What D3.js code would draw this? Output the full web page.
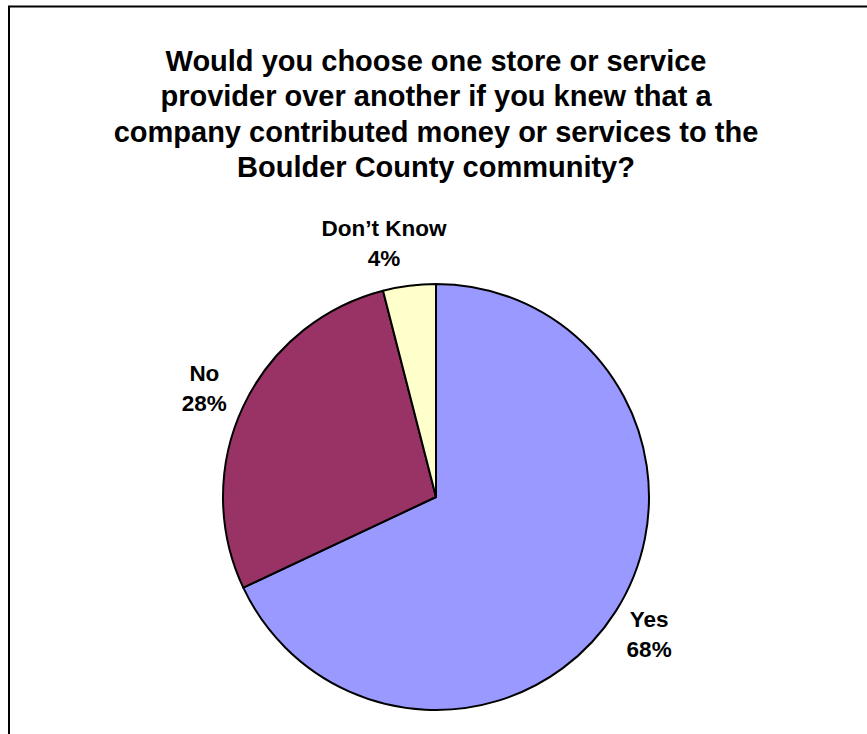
<!DOCTYPE html>
<html>
<head>
<meta charset="utf-8">
<script src="https://cdn.jsdelivr.net/npm/d3@7"></script>
<style>
  html, body { margin: 0; padding: 0; background: #ffffff; }
  svg { display: block; }
  text { font-family: "Liberation Sans", Arial, sans-serif; font-weight: bold; fill: #000; }
</style>
</head>
<body>
<div id="chart"></div>
<script>
// Survey answers and their shares (percent)
const categories = ["Yes", "No", "Don\u2019t Know"];
const shares = [68, 28, 4];
const sliceColors = ["#9999FF", "#993366", "#FFFFCC"];
const titleLines = [
  "Would you choose one store or service",
  "provider over another if you knew that a",
  "company contributed money or services to the",
  "Boulder County community?"
];

const W = 867, H = 734;
const cx = 436, cy = 497, radius = 213;

const svg = d3.select("#chart").append("svg")
  .attr("width", W).attr("height", H);

// chart area frame (runs past the right and bottom edges)
svg.append("rect")
  .attr("x", 9).attr("y", 6.5)
  .attr("width", W + 20).attr("height", H + 20)
  .attr("fill", "#fff")
  .attr("stroke", "#000")
  .attr("stroke-width", 2);

// title
const title = svg.append("text")
  .attr("text-anchor", "middle")
  .style("font-size", "29px");
titleLines.forEach((line, i) => {
  title.append("tspan")
    .attr("x", cx)
    .attr("y", 70.5 + i * 35.5)
    .text(line);
});

const data = categories.map((c, i) => ({ name: c, value: shares[i], color: sliceColors[i] }));

const pie = d3.pie()
  .sort(null)
  .value(d => d.value)
  .startAngle(0)
  .endAngle(2 * Math.PI);

const arcs = pie(data);
const arc = d3.arc().innerRadius(0).outerRadius(radius);

const g = svg.append("g").attr("transform", `translate(${cx},${cy})`);

g.selectAll("path.slice")
  .data(arcs)
  .join("path")
  .attr("class", "slice")
  .attr("d", arc)
  .attr("fill", d => d.data.color)
  .attr("stroke", "#000")
  .attr("stroke-width", 2)
  .attr("stroke-linejoin", "round");

// labels just outside the rim, centred on each slice's mid angle
const labelRadius = 256;
const labelArc = d3.arc().innerRadius(labelRadius).outerRadius(labelRadius);
const nudgeX = { "Yes": -3, "No": 0, "Don\u2019t Know": -20 };
const lineGap = 29.5;

const labels = g.selectAll("text.lbl")
  .data(arcs)
  .join("text")
  .attr("class", "lbl")
  .attr("text-anchor", "middle")
  .style("font-size", "22.5px")
  .each(function(d) {
    const [x, y] = labelArc.centroid(d);
    const t = d3.select(this);
    const lx = x + (nudgeX[d.data.name] || 0);
    const top = y - lineGap / 2 + 8;
    t.append("tspan").attr("x", lx).attr("y", top).text(d.data.name);
    t.append("tspan").attr("x", lx).attr("y", top + lineGap).text(d.data.value + "%");
  });
</script>
</body>
</html>
